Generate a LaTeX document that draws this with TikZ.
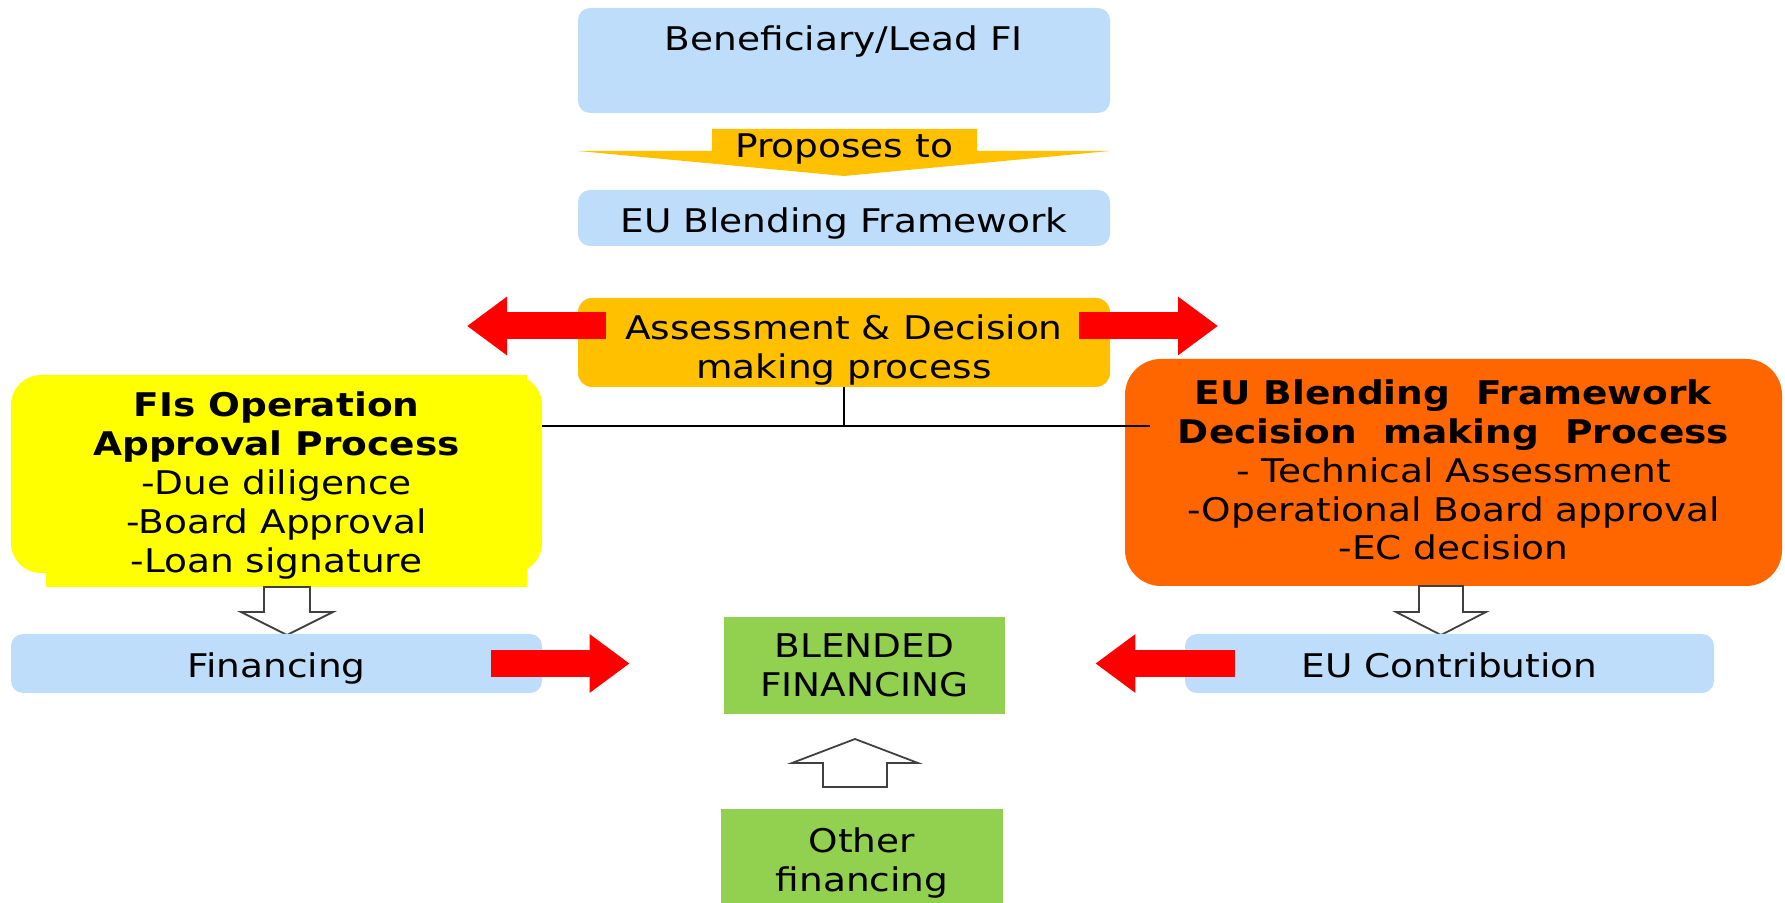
\documentclass[tikz,border=0pt]{standalone}
\usepackage{fontspec}
\setmainfont{DejaVu Sans}[FakeStretch=1.15]
\usepackage{tikz}
\usetikzlibrary{arrows.meta,positioning}

\definecolor{boxblue}{RGB}{189,221,251}
\definecolor{boxgold}{RGB}{255,192,0}
\definecolor{boxyellow}{RGB}{255,255,0}
\definecolor{boxorange}{RGB}{255,102,0}
\definecolor{boxgreen}{RGB}{146,208,80}
\definecolor{arrowgrey}{RGB}{64,64,64}

\tikzset{
	every node/.style={font=\fontsize{16.3pt}{19.4pt}\selectfont, align=center, inner sep=0pt},
	oneline/.style={text height=14.5pt, text depth=0pt},
	bluebox/.style={fill=boxblue, rounded corners=6pt},
	goldbox/.style={fill=boxgold, rounded corners=7pt},
	yellowbox/.style={fill=boxyellow, rounded corners=15pt},
	orangebox/.style={fill=boxorange, rounded corners=18pt},
	greenbox/.style={fill=boxgreen},
	bigred/.style={draw=red, line width=13.5pt, -{Triangle[length=20pt,width=28pt]}},
	hollow/.style={draw=arrowgrey, fill=white, line width=0.9pt, line join=miter},
}

\begin{document}
\begin{tikzpicture}[x=0.5pt, y=-0.5pt]
			\useasboundingbox (0,0) rectangle (1785,903);

			% top of the chain
			\node (benef) [bluebox, minimum width=266pt, text height=21.5pt, text depth=31pt] at (844,60.5) {Beneficiary/Lead FI};
			\fill [boxgold] (578,151) -- (712,151) -- (712,129) -- (977,129) -- (977,151) -- (1110,151) -- (844,176) -- cycle;
			\node (propose) at (844,149.5) {Proposes to};
			\node (ebf) [bluebox, oneline, minimum width=266pt, minimum height=28pt] at (844,218) {EU Blending Framework};
			\node (assess) [goldbox, minimum width=266pt, minimum height=44.5pt] at (844,342.5) {\rule{0pt}{20pt}Assessment \& Decision\\making process};

			\coordinate (lefttip) at (467,326);
			\coordinate (righttip) at (1218,326);
			\draw [bigred] ([xshift=14pt]assess.west |- lefttip) to (lefttip);
			\draw [bigred] ([xshift=-15.5pt]assess.east |- righttip) to (righttip);

			% the two approval processes
			\fill [yellowbox] (11,375) rectangle (542,573);
			\fill [boxyellow] (46,375) rectangle (527,587);
			\node (fis) [minimum width=265.5pt] at (276.5,485.5) {\textbf{FIs Operation}\\\textbf{Approval Process}\\-Due diligence\\-Board Approval\\-Loan signature};
			\node (ebp) [orangebox, minimum width=328.5pt, minimum height=113.5pt] at (1453.5,472.5) {\textbf{EU Blending~ Framework}\\\textbf{Decision~ making~ Process}\\- Technical Assessment\\-Operational Board approval\\-EC decision\rule[-2.5pt]{0pt}{2.5pt}};

			\coordinate (junction) at (844,426);
			\draw [line width=1pt] (assess.south) to (junction);
			\draw [line width=1pt] (fis.east |- junction) to ([xshift=12.5pt]ebp.west |- junction);

			% hollow arrows
			\draw [hollow] (264,587) -- (310,587) -- (310,612) -- (333,612) -- (287,635) -- (241,612) -- (264,612) -- cycle;
			\draw [hollow] (1419,586) -- (1463,586) -- (1463,612) -- (1486,612) -- (1441,635) -- (1396,612) -- (1419,612) -- cycle;
			\draw [hollow] (823,787) -- (887,787) -- (887,763) -- (918,763) -- (855,739) -- (792,763) -- (823,763) -- cycle;

			% financing
			\node (fin) [bluebox, oneline, minimum width=265.5pt, minimum height=29.5pt] at (276.5,663.5) {Financing};
			\node (ebc) [bluebox, oneline, minimum width=264.5pt, minimum height=29.5pt] at (1449.5,663.5) {EU Contribution};
			\node (blended) [greenbox, minimum width=140.5pt, minimum height=48.5pt] at (864.5,665.5) {BLENDED\\FINANCING};
			\node (other) [greenbox, minimum width=141pt, minimum height=47pt] at (862,856) {\rule{0pt}{19.5pt}Other\\financing};

			\draw [bigred, shorten >=47pt] ([xshift=-25.5pt]fin.east) to (blended.west |- fin.east);
			\draw [bigred, shorten >=45pt] ([xshift=25pt]ebc.west) to (blended.east |- ebc.west);
		\end{tikzpicture}
\end{document}
